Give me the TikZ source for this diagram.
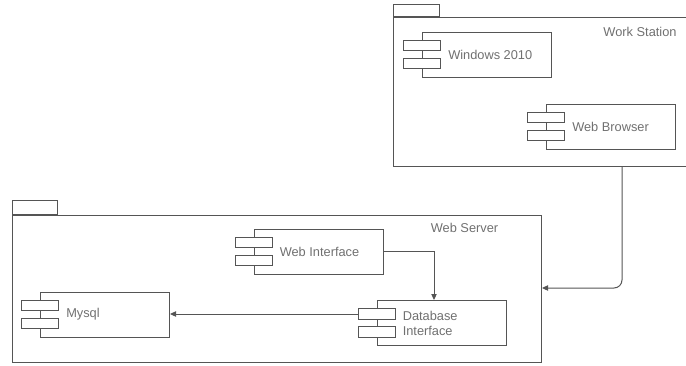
\documentclass[tikz,border=0pt]{standalone}
\usepackage{fontspec}
\setmainfont{Liberation Sans}
\usetikzlibrary{arrows.meta}
\definecolor{linecol}{HTML}{555555}
\definecolor{txtcol}{HTML}{707070}
\tikzset{
  pkg/.style={draw=linecol, line width=0.75pt, inner sep=0pt},
  compbody/.style={draw=linecol, line width=0.75pt, minimum width=96.75pt, minimum height=33.75pt, inner sep=0pt},
  compport/.style={draw=linecol, line width=0.75pt, fill=white, minimum width=27.75pt, minimum height=7.9pt, inner sep=0pt},
  lbl/.style={text=txtcol, font=\fontsize{9.6pt}{11pt}\selectfont, inner sep=0pt, align=left},
  arr/.style={draw=linecol, line width=0.75pt, -{Triangle[length=4.5pt,width=4pt]}},
}
\newcommand{\mycomp}[4]{%
  \node[compbody] (#1) at (#2) {};
  \node[compport] (#1p1) at ([yshift=6.75pt]#1.west) {};
  \node[compport] (#1p2) at ([yshift=-6.75pt]#1.west) {};
  \node[lbl, anchor=west] (#1t) at ([xshift=19.5pt,yshift=#4]#1.west) {#3};
}
\begin{document}
\begin{tikzpicture}[x=0.75pt, y=-0.75pt]
\useasboundingbox (0,0) rectangle (686,365);
% Work Station package
\node[pkg, minimum width=34.5pt, minimum height=9pt, anchor=south west] (wstab) at (393,17) {};
\node[pkg, minimum width=240pt, minimum height=111.75pt, anchor=north west] (ws) at (393,17) {};
\node[lbl] (wslbl) at (640,32) {Work Station};
% Web Server package
\node[pkg, minimum width=33.75pt, minimum height=10.5pt, anchor=south west] (wsrvtab) at (12,215) {};
\node[pkg, minimum width=396.75pt, minimum height=110.25pt, anchor=north west] (wsrv) at (12,215) {};
\node[lbl] (wsrvlbl) at (464.5,228) {Web Server};
% components
\mycomp{win}{487,54.5}{Windows 2010}{0pt}
\mycomp{brw}{611,126.5}{Web Browser}{0pt}
\mycomp{wint}{318.5,251.5}{Web Interface}{0pt}
\mycomp{mys}{105,314.5}{Mysql}{0pt}
\mycomp{dbi}{441.5,323}{Database\\Interface}{-0.5pt}
% connectors
\draw[arr] (wint.east) -| (434,0 |- dbi.north);
\draw[arr] (dbip1.west) -- (dbip1.west -| mys.east);
\draw[arr, rounded corners=6pt] (622,0 |- ws.south) |- (wsrv.east |- 0,288);
\end{tikzpicture}
\end{document}
